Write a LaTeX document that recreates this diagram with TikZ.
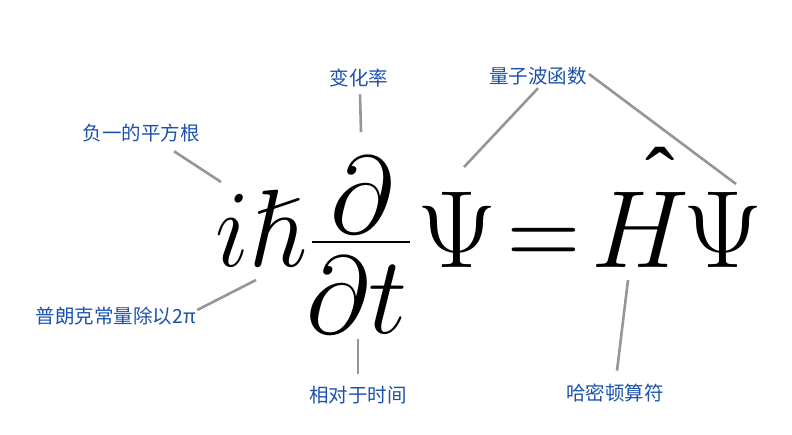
\RequirePackage{fix-cm}
\documentclass[tikz,border=0pt]{standalone}
\usepackage{amsmath}
\usepackage{amssymb}
\usepackage{fontspec}
\newfontfamily\cjk{Noto Sans CJK SC}
\newfontfamily\accentfont{Liberation Serif}
\usetikzlibrary{calc}

\definecolor{lblblue}{RGB}{28,82,172}
\definecolor{leadgray}{RGB}{150,150,150}

\tikzset{
  lbl/.style={font=\cjk\fontsize{19.5}{22}\selectfont, text=lblblue, inner sep=1pt},
  eqpart/.style={font=\fontsize{110}{120}\selectfont, inner sep=0pt, anchor=base},
  lead/.style={draw=leadgray, line width=2.6pt}
}

\begin{document}
\begin{tikzpicture}[x=1pt,y=-1pt]
\useasboundingbox[fill=white] (0,0) rectangle (792,434);
% the equation, piece by piece
\node[eqpart,anchor=base west] (ih) at (215,266) {\scalebox{.92}[1]{$i\hslash$}};
\node[eqpart] (num) at (362,233) {$\partial$};
\node[eqpart] (den) at (357,333) {$\partial t$};
\coordinate (barL) at (312,242);
\coordinate (barR) at (410,242);
\draw[line width=2.4pt] (barL) -- (barR);
\node[eqpart] (psiL) at (457,267) {$\Psi$};
\node[eqpart] (eq) at (544,267) {\scalebox{.92}[1]{$=$}};
\node[eqpart] (ham) at (640,267) {$H$};
\node[inner sep=0pt, anchor=base, font=\accentfont\fontsize{88}{88}\selectfont] (hat) at (660,208) {ˆ};
\node[eqpart] (psiR) at (723,267) {$\Psi$};
% labels
\node[lbl] (sqrtlbl) at (141,133) {负一的平方根};
\node[lbl] (ratelbl) at (359,78) {变化率};
\node[lbl] (wavelbl) at (538,76) {量子波函数};
\node[lbl] (planklbl) at (116,316) {普朗克常量除以2π};
\node[lbl] (timelbl) at (358,395) {相对于时间};
\node[lbl] (hamlbl) at (615,393) {哈密顿算符};
% where the leads end
\coordinate (iend) at (221,182);
\coordinate (dend) at (361,132);
\coordinate (psiLend) at (464,167);
\coordinate (psiRend) at (736,184);
\coordinate (hbarend) at (256,280);
\coordinate (tend) at (358,339);
\coordinate (hamend) at (628,280);
% leads
\draw[lead] ($(sqrtlbl.south)+(33,8)$) -- (iend);
\draw[lead] ($(ratelbl.south)+(1,6)$) -- (dend);
\draw[lead] ($(wavelbl.south)+(0,2)$) -- (psiLend);
\draw[lead] ($(wavelbl.east)+(1,-2)$) -- (psiRend);
\draw[lead] ($(planklbl.east)+(0,-6)$) -- (hbarend);
\draw[lead] ($(timelbl.north)+(0,-11)$) -- (tend);
\draw[lead] ($(hamlbl.north)+(2,-12)$) -- (hamend);
\end{tikzpicture}
\end{document}
